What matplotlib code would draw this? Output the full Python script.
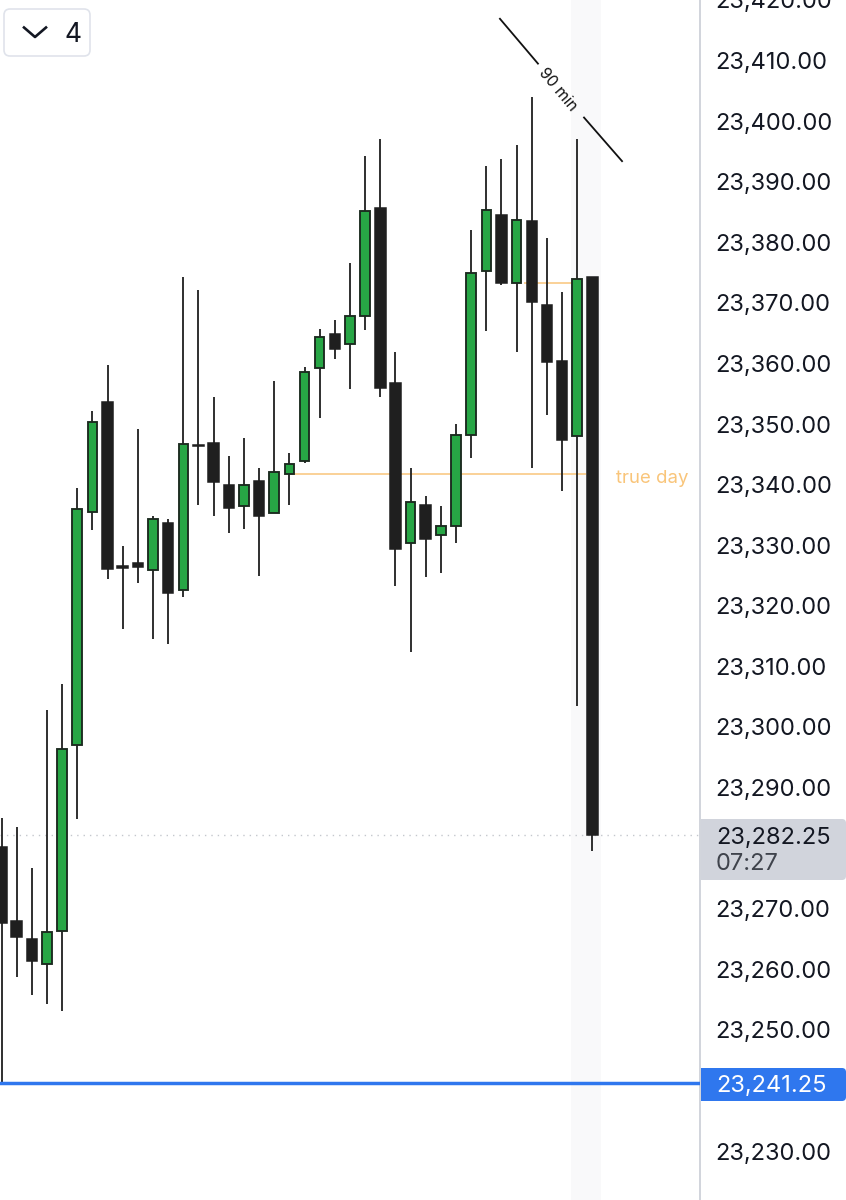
import matplotlib
matplotlib.use("Agg")
import matplotlib.pyplot as plt
from matplotlib.patches import FancyBboxPatch, Rectangle
from matplotlib.lines import Line2D
from matplotlib.transforms import IdentityTransform

plt.rcParams['font.family'] = ['Inter', 'DejaVu Sans']

W, H = 846, 1200

opens = [23280.2, 23267.9, 23265.05, 23260.8, 23266.4, 23297.0, 23335.55, 23353.65, 23326.5, 23327.0,
         23325.85, 23333.75, 23322.55, 23346.6, 23346.9, 23340.0, 23336.55, 23340.65, 23335.25, 23341.8,
         23343.95, 23359.25, 23364.85, 23363.25, 23367.85, 23385.6, 23356.8, 23330.3, 23336.7, 23331.75,
         23333.1, 23348.25, 23375.25, 23384.45, 23373.25, 23383.5, 23369.65, 23360.45, 23348.05, 23374.25]
closes = [23267.7, 23265.4, 23261.3, 23266.2, 23296.35, 23335.9, 23350.4, 23326.15, 23326.25, 23326.35,
          23334.4, 23322.05, 23346.75, 23346.45, 23340.5, 23336.2, 23340.0, 23334.9, 23342.15, 23343.45,
          23358.6, 23364.4, 23362.4, 23367.85, 23385.15, 23356.0, 23329.45, 23337.2, 23330.95, 23333.25,
          23348.25, 23374.9, 23385.3, 23373.25, 23383.65, 23370.15, 23360.25, 23347.4, 23373.95, 23282.25]
highs = [23285.0, 23283.5, 23276.75, 23302.8, 23307.05, 23339.5, 23352.2, 23359.75, 23329.95, 23349.25,
         23334.9, 23334.25, 23374.25, 23372.1, 23354.5, 23344.8, 23347.75, 23342.8, 23357.15, 23345.25,
         23359.45, 23365.7, 23367.2, 23376.55, 23394.2, 23397.0, 23361.9, 23342.8, 23338.05, 23336.4,
         23350.05, 23382.0, 23392.55, 23393.7, 23396.0, 23404.05, 23380.7, 23371.8, 23397.0, 23374.25]
lows = [23241.0, 23258.65, 23255.7, 23254.2, 23253.05, 23284.85, 23332.45, 23324.35, 23316.1, 23323.7,
        23314.5, 23313.65, 23321.4, 23336.7, 23334.75, 23331.95, 23332.6, 23324.85, 23335.25, 23336.7,
        23343.6, 23351.05, 23360.75, 23355.8, 23365.55, 23354.5, 23323.2, 23312.35, 23324.7, 23325.5,
        23330.45, 23344.45, 23365.35, 23372.95, 23361.9, 23342.8, 23351.55, 23339.0, 23303.45, 23279.55]

tick_prices = [p for p in range(23230, 23430, 10) if p not in (23240, 23280)]
last_price = 23282.25
countdown = "07:27"
blue_level = 23241.25
true_day_level = 23341.8
true_day_span = (19, 38.6)
upper_level = 23373.25
upper_span = (34.5, 38)
highlight_span = (37.6, 39.57)
measure_first = ([32.9, 35.41], [23416.9, 23409.5])
measure_second = ([38.45, 40.96], [23400.6, 23393.4])
measure_label = (36.73, 23405.2)
true_day_label = (40.55, 23341.0)

GREEN, DARK, EDGE = "#27a645", "#1f1f1f", "#1b2a1f"
AXIS = "#d1d4dc"
TEXT = "#131722"
ORANGE = "#f9c57a"
BLUE = "#2f77ee"
LABEL_PT = 17

fig = plt.figure(figsize=(W / 100, H / 100), dpi=100, facecolor="white")
ax = fig.add_axes([0, 0, 699.5 / W, 1])
ax.set_xlim(-1.5 / 15.15, (699.5 - 1.5) / 15.15)
ax.set_ylim(23419.55 - H * 0.16469, 23419.55)

for s in ("top", "left", "bottom"):
    ax.spines[s].set_visible(False)
ax.spines["right"].set_color(AXIS)
ax.spines["right"].set_linewidth(1.4)
ax.set_xticks([])
ax.yaxis.tick_right()
ax.set_yticks(tick_prices)
ax.set_yticklabels([f"{p:,.2f}" for p in tick_prices], fontsize=LABEL_PT, color=TEXT)
ax.tick_params(axis="y", length=0, pad=11)

ax.axvspan(*highlight_span, color="#f9f9fa", lw=0, zorder=0)
ax.hlines(true_day_level, *true_day_span, color=ORANGE, lw=1.1, zorder=1)
ax.hlines(upper_level, *upper_span, color=ORANGE, lw=1.1, zorder=1)
ax.axhline(last_price, color="#c4c7cd", lw=1.0, ls=(0, (1, 3.6)), zorder=1)

xs = list(range(len(opens)))
ax.vlines(xs, lows, highs, color=DARK, lw=1.3, zorder=2)
for x, o, c in zip(xs, opens, closes):
    up = c > o
    ax.bar(x, abs(c - o), bottom=min(o, c), width=9.6 / 15.15 if up else 10.5 / 15.15,
           facecolor=GREEN if up else DARK, edgecolor=EDGE if up else DARK,
           linewidth=1.35 if up else 1.1, zorder=3 + x * 0.001)

ax.axhline(blue_level, color=BLUE, lw=2.5, zorder=4)

ax.plot(*measure_first, color="#111111", lw=1.3, zorder=5, clip_on=False)
ax.plot(*measure_second, color="#111111", lw=1.3, zorder=5, clip_on=False)
ax.text(*measure_label, "90 min", rotation=-50, rotation_mode="anchor", ha="center", va="center",
        fontsize=11.3, color="#111111", zorder=5)
ax.text(*true_day_label, "true day", color=ORANGE, fontsize=13.4, va="center", ha="left")

px = IdentityTransform()


def badge(x0, y0, x1, y1, color, z=10):
    ax.add_patch(FancyBboxPatch((x0 + 4, H - y1 + 4), x1 - x0 - 8, y1 - y0 - 8,
                                boxstyle="round,pad=4,rounding_size=4", transform=px,
                                facecolor=color, edgecolor="none", clip_on=False, zorder=z))
    ax.add_patch(Rectangle((x0, H - y1), 10, y1 - y0, transform=px, facecolor=color,
                           edgecolor="none", clip_on=False, zorder=z))


badge(701, 819, 846, 880, AXIS)
badge(701, 1068, 846, 1101, BLUE)
ax.text(716, H - 835, f"{last_price:,.2f}", transform=px, fontsize=LABEL_PT, color=TEXT,
        va="center_baseline", ha="left", zorder=11, clip_on=False)
ax.text(716, H - 862, countdown, transform=px, fontsize=LABEL_PT, color="#3f434c",
        va="center_baseline", ha="left", zorder=11, clip_on=False)
ax.text(716, H - 1083.5, f"{blue_level:,.2f}", transform=px, fontsize=LABEL_PT, color="white",
        va="center_baseline", ha="left", zorder=11, clip_on=False)

# top-left collapse button
ax.add_patch(FancyBboxPatch((10, H - 50), 74, 35, boxstyle="round,pad=6,rounding_size=6", transform=px,
                            facecolor="white", edgecolor="#e0e3eb", lw=1.2, zorder=12, clip_on=False))
ax.add_line(Line2D([24, 35, 46], [H - 27.5, H - 37, H - 27.5], transform=px, color=TEXT, lw=1.9, zorder=13,
                   clip_on=False))
ax.text(72.5, H - 32, "4", transform=px, fontsize=19, color=TEXT, ha="center", va="center_baseline", zorder=13)

fig.savefig("out.png", dpi=100)
